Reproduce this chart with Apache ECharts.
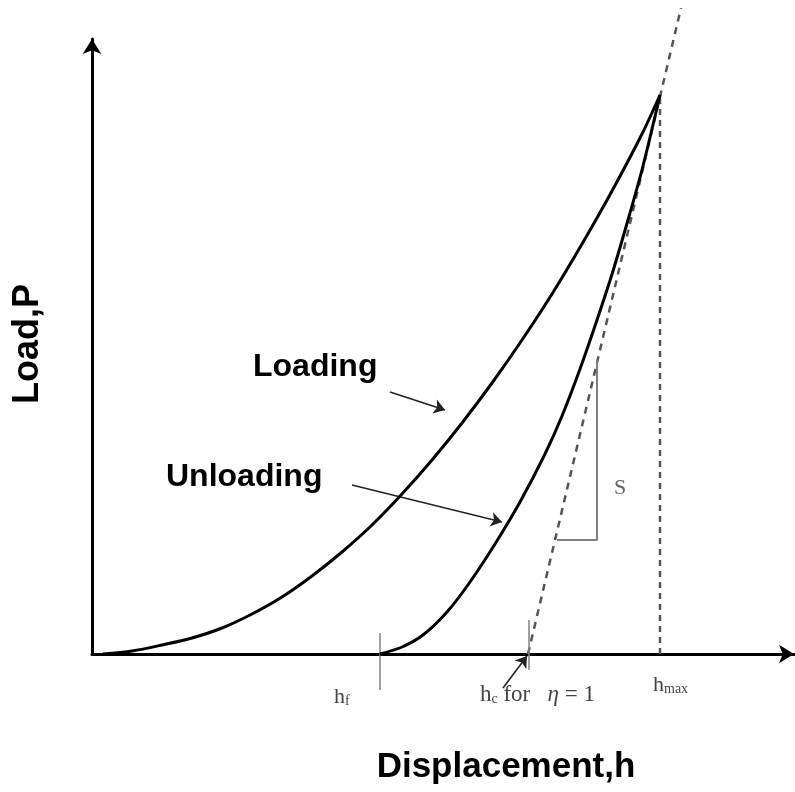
<!DOCTYPE html>
<html>
<head>
<meta charset="utf-8">
<script src="https://cdn.jsdelivr.net/npm/echarts@6/dist/echarts.min.js"></script>
<style>html,body{margin:0;padding:0;background:#fff}#c{width:795px;height:792px}</style>
</head>
<body>
<div id="c"></div>
<script>
// Values (displacement h, load P in drawing units)
var loadingH = [11, 40, 70, 100, 130, 160, 190, 220, 250, 280, 310, 340, 370, 400, 430, 460, 490, 520, 550, 568];
var loadingP = [0, 3, 9, 16, 26, 40, 57, 78, 102, 129, 160, 194, 231, 271, 314, 360, 410, 463, 520, 559];
var unloadingH = [288, 310, 331, 355, 378, 403, 428, 453, 470, 488, 505, 521, 538, 551, 568];
var unloadingP = [0, 7, 19, 42, 72, 110, 152, 200, 238, 285, 334, 383, 441, 488, 559];
var tangentH = [436, 589];
var tangentP = [0, 646];
var hmaxH = [568, 568];
var hmaxP = [0, 559];
var hfTickH = [288, 288];
var hfTickP = [21, -36];
var hcTickH = [437, 437];
var hcTickP = [34, -16];
var slopeH = [505, 505, 465];
var slopeP = [294, 114, 114];
var xMax = 702, yMax = 615;

function pairs(a, b) { return a.map(function (v, i) { return [v, b[i]]; }); }

var chart = echarts.init(document.getElementById('c'));
var black = '#000';
var grey = '#808080';
var serif = '"Liberation Serif", "DejaVu Serif", serif';
var sans = '"Liberation Sans", Arial, sans-serif';

chart.setOption({
  animation: false,
  backgroundColor: '#fff',
  grid: { left: 92, right: 1, top: 39, bottom: 138 },
  xAxis: {
    type: 'value', min: 0, max: xMax,
    axisLine: { show: true, onZero: false, symbol: ['none', 'arrow'], symbolSize: [14, 15], lineStyle: { color: black, width: 3 } },
    axisTick: { show: false }, axisLabel: { show: false }, splitLine: { show: false }
  },
  yAxis: {
    type: 'value', min: 0, max: yMax,
    axisLine: { show: true, onZero: false, symbol: ['none', 'arrow'], symbolSize: [14, 15], lineStyle: { color: black, width: 3 } },
    axisTick: { show: false }, axisLabel: { show: false }, splitLine: { show: false }
  },
  series: [
    { name: 'Loading', type: 'line', data: pairs(loadingH, loadingP), smooth: 0.3, showSymbol: false, symbol: 'none',
      lineStyle: { color: black, width: 3 }, z: 5 },
    { name: 'Unloading', type: 'line', data: pairs(unloadingH, unloadingP), smooth: 0.3, showSymbol: false, symbol: 'none',
      lineStyle: { color: black, width: 3 }, z: 5 },
    { name: 'Tangent', type: 'line', data: pairs(tangentH, tangentP), showSymbol: false, symbol: 'none', clip: false,
      lineStyle: { color: '#555', width: 2.5, type: [7, 6] } },
    { name: 'hmax', type: 'line', data: pairs(hmaxH, hmaxP), showSymbol: false, symbol: 'none', clip: false,
      lineStyle: { color: '#555', width: 2.5, type: [6, 5] } },
    { name: 'hfTick', type: 'line', data: pairs(hfTickH, hfTickP), showSymbol: false, symbol: 'none', clip: false,
      lineStyle: { color: grey, width: 1.5 } },
    { name: 'hcTick', type: 'line', data: pairs(hcTickH, hcTickP), showSymbol: false, symbol: 'none', clip: false,
      lineStyle: { color: grey, width: 1.5 } },
    { name: 'S', type: 'line', data: pairs(slopeH, slopeP), showSymbol: false, symbol: 'none', clip: false,
      lineStyle: { color: grey, width: 2 } },
    { name: 'arrows', type: 'lines', coordinateSystem: 'cartesian2d', clip: false,
      symbol: ['none', 'arrow'], symbolSize: 11,
      lineStyle: { color: '#222', width: 1.5, opacity: 1, curveness: 0 },
      data: [
        { coords: [[298, 262], [353, 244]] },
        { coords: [[260, 169], [410, 132]] },
        { coords: [[411, -34], [435, -2]] }
      ] }
  ],
  graphic: [
    { type: 'text', x: 253, y: 367, style: { text: 'Loading', font: 'bold 32px ' + sans, fill: black, verticalAlign: 'middle' } },
    { type: 'text', x: 166, y: 477, style: { text: 'Unloading', font: 'bold 32px ' + sans, fill: black, verticalAlign: 'middle' } },
    { type: 'text', x: 506, y: 767, style: { text: 'Displacement,h', font: 'bold 35px ' + sans, fill: black, align: 'center', verticalAlign: 'middle' } },
    { type: 'text', x: 28, y: 344, rotation: Math.PI / 2, style: { text: 'Load,P', font: 'bold 36px ' + sans, fill: black, align: 'center', verticalAlign: 'middle' } },
    { type: 'text', x: 620, y: 488, style: { text: 'S', font: '22px ' + serif, fill: '#666', align: 'center', verticalAlign: 'middle' } },
    { type: 'text', x: 653, y: 685, style: { text: '{m|h}{s|max}', verticalAlign: 'middle',
      rich: { m: { font: '22px ' + serif, fill: '#444' }, s: { font: '14px ' + serif, fill: '#444', padding: [8, 0, 0, 0] } } } },
    { type: 'text', x: 480, y: 695, style: { text: '{m|h}{s|c}{m| for   }{e|η}{m| = 1}', verticalAlign: 'middle',
      rich: { m: { font: '23px ' + serif, fill: '#444' }, e: { font: 'italic 23px ' + serif, fill: '#444' }, s: { font: '14px ' + serif, fill: '#444', padding: [8, 0, 0, 0] } } } },
    { type: 'text', x: 334, y: 697, style: { text: '{m|h}{s|f}', verticalAlign: 'middle',
      rich: { m: { font: '22px ' + serif, fill: '#444' }, s: { font: '14px ' + serif, fill: '#444', padding: [8, 0, 0, 0] } } } }
  ]
});
</script>
</body>
</html>
